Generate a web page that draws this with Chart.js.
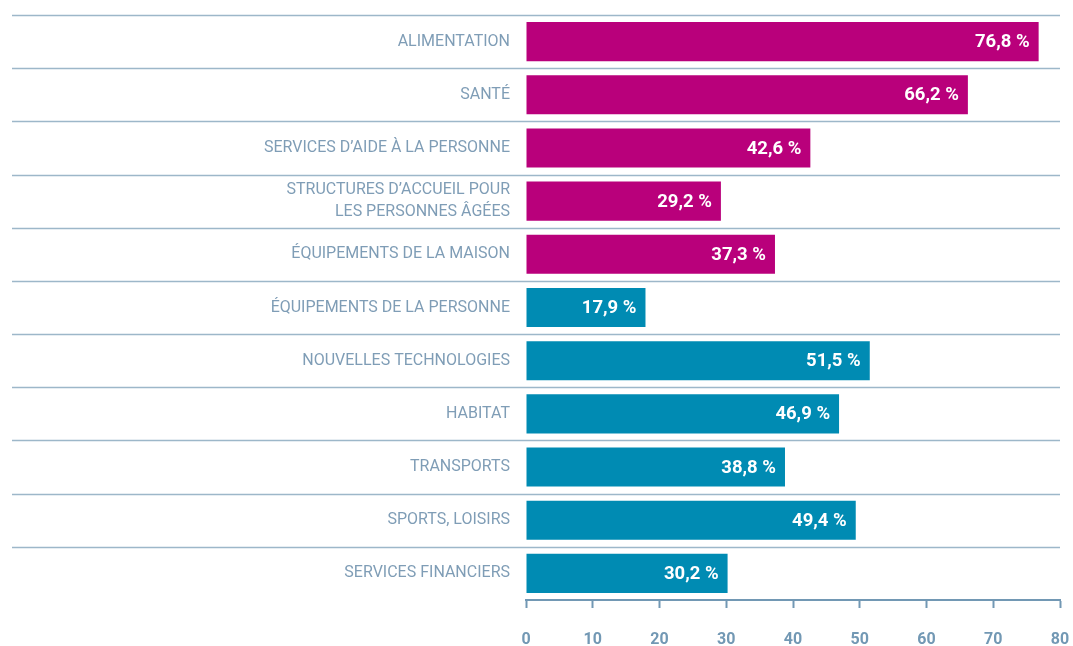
<!DOCTYPE html>
<html>
<head>
<meta charset="utf-8">
<script src="https://cdn.jsdelivr.net/npm/chart.js@4/dist/chart.umd.min.js"></script>
<style>
  html, body { margin: 0; padding: 0; background: #fff; }
  #wrap { width: 1073px; height: 646px; position: relative; }
</style>
</head>
<body>
<div id="wrap"><canvas id="chart"></canvas></div>
<script>
const categories = [
    'ALIMENTATION',
    'SANTÉ',
    'SERVICES D’AIDE À LA PERSONNE',
    ['STRUCTURES D’ACCUEIL POUR', 'LES PERSONNES ÂGÉES'],
    'ÉQUIPEMENTS DE LA MAISON',
    'ÉQUIPEMENTS DE LA PERSONNE',
    'NOUVELLES TECHNOLOGIES',
    'HABITAT',
    'TRANSPORTS',
    'SPORTS, LOISIRS',
    'SERVICES FINANCIERS'
];
const values = [76.8, 66.2, 42.6, 29.2, 37.3, 17.9, 51.5, 46.9, 38.8, 49.4, 30.2];
const xTicks = [0, 10, 20, 30, 40, 50, 60, 70, 80];

const MAGENTA = '#b9007b';
const BLUE = '#008bb3';
const AXIS_COLOR = '#7298b4';
const LABEL_COLOR = '#7f9db6';
const SEP_COLOR = '#9db7c9';

// lines between the rows, running under the labels too
const rowLines = {
    id: 'rowLines',
    beforeDatasetsDraw(chart) {
        const { ctx, chartArea } = chart;
        const y = chart.scales.y;
        const step = y.getPixelForValue(1) - y.getPixelForValue(0);
        ctx.save();
        ctx.strokeStyle = SEP_COLOR;
        ctx.lineWidth = 1.5;
        for (let i = 0; i < categories.length; i++) {
            const py = Math.round(y.getPixelForValue(i) - step / 2) + 0.5;
            ctx.beginPath();
            ctx.moveTo(12, py);
            ctx.lineTo(chartArea.right, py);
            ctx.stroke();
        }
        ctx.restore();
    }
};

// percentage written inside the end of each bar
const barValues = {
    id: 'barValues',
    afterDatasetsDraw(chart) {
        const { ctx } = chart;
        const meta = chart.getDatasetMeta(0);
        ctx.save();
        ctx.fillStyle = '#fff';
        ctx.font = 'bold 18.5px Roboto';
        ctx.textAlign = 'right';
        ctx.textBaseline = 'middle';
        meta.data.forEach((bar, i) => {
            const txt = values[i].toFixed(1).replace('.', ',') + ' %';
            ctx.fillText(txt, bar.x - 9, bar.y + 1);
        });
        ctx.restore();
    }
};

new Chart(document.getElementById('chart'), {
    type: 'bar',
    data: {
        labels: categories,
        datasets: [{
            data: values,
            backgroundColor: c => c.dataIndex < 5 ? MAGENTA : BLUE,
            categoryPercentage: 1,
            barPercentage: 0.735,
            borderWidth: 0
        }]
    },
    options: {
        indexAxis: 'y',
        responsive: true,
        maintainAspectRatio: false,
        animation: false,
        layout: { padding: { top: 15, right: 13, left: 0, bottom: 0 } },
        plugins: {
            legend: { display: false },
            tooltip: { enabled: false }
        },
        scales: {
            x: {
                min: xTicks[0],
                max: xTicks[xTicks.length - 1],
                afterFit: s => {
                    s.height = 46;
                    s.paddingLeft = 0;
                    s.paddingRight = 0;
                },
                afterBuildTicks: s => { s.ticks = xTicks.map(v => ({ value: v })); },
                grid: {
                    drawOnChartArea: false,
                    drawTicks: true,
                    tickLength: 8,
                    tickColor: AXIS_COLOR,
                    tickWidth: 2
                },
                border: { display: true, color: AXIS_COLOR, width: 2 },
                ticks: {
                    color: AXIS_COLOR,
                    font: { family: 'Roboto', size: 16, weight: 'bold' },
                    padding: 22,
                    maxRotation: 0
                }
            },
            y: {
                afterFit: s => {
                    s.width = 526;
                    s.paddingTop = 0;
                    s.paddingBottom = 0;
                },
                grid: { display: false, drawTicks: false },
                border: { display: false },
                ticks: {
                    color: LABEL_COLOR,
                    font: { family: 'Roboto', size: 16, lineHeight: 1.4 },
                    padding: 16
                }
            }
        }
    },
    plugins: [rowLines, barValues]
});
</script>
</body>
</html>
